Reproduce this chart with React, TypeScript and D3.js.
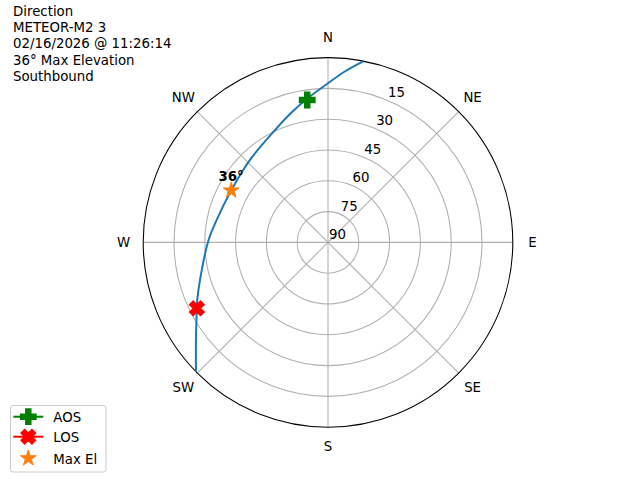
import React from "react";
import * as d3 from "d3";

const titleLines = ["Direction", "METEOR-M2 3", "02/16/2026 @ 11:26:14", "36° Max Elevation", "Southbound"];
const compassLabels = ["N", "NE", "E", "SE", "S", "SW", "W", "NW"];
const compassAz = [0, 45, 90, 135, 180, 225, 270, 315];
const ringTicks = [15, 30, 45, 60, 75];
const rLabelTicks = [15, 30, 45, 60, 75, 90];

// pass track (azimuth deg, elevation deg)
const trackAz = [11.0, 5.5, 0, 351.7, 343.5, 334.8, 316.6, 298.2, 281.4, 270.7, 253.6, 246.2, 243.3, 233.5, 225.6];
const trackEl = [0.2, 6.5, 12.5, 19.3, 24.8, 29.5, 34.7, 36.5, 34.7, 31.7, 25.0, 20.4, 18.5, 10.0, 0.0];

const aos = { az: 351.7, el: 19.9 };
const los = { az: 243.3, el: 18.5 };
const maxEl = { az: 298.2, el: 36.5 };

const legendLabels = ["AOS", "LOS", "Max El"];

const W = 640, H = 480;
const cx = 328, cy = 242.4, R = 184.8;
const FONT = "DejaVu Sans, sans-serif";

const rScale = d3.scaleLinear().domain([90, 0]).range([0, R]);
const aScale = d3.scaleLinear().domain([0, 360]).range([0, 2 * Math.PI]);
const px = (az: number, el: number) => cx + rScale(el) * Math.sin(aScale(az));
const py = (az: number, el: number) => cy - rScale(el) * Math.cos(aScale(az));

function plusPath(s: number, rot: number) {
  const h = s / 2, t = s / 6;
  const pts: [number, number][] = [
    [-t, -h], [t, -h], [t, -t], [h, -t], [h, t], [t, t], [t, h], [-t, h], [-t, t], [-h, t], [-h, -t], [-t, -t],
  ];
  const c = Math.cos(rot), sn = Math.sin(rot);
  return "M" + pts.map(([x, y]) => `${x * c - y * sn},${x * sn + y * c}`).join("L") + "Z";
}

function starPath(ro: number) {
  const ri = ro * 0.381966;
  const pts: string[] = [];
  for (let i = 0; i < 10; i++) {
    const r = i % 2 === 0 ? ro : ri;
    const a = (i * Math.PI) / 5;
    pts.push(`${r * Math.sin(a)},${-r * Math.cos(a)}`);
  }
  return "M" + pts.join("L") + "Z";
}

const GREEN = "#008000";
const RED = "#ff0000";
const ORANGE = "#ff7f0e";
const BLUE = "#1f77b4";

export default function App() {
  const trackPts = trackAz.map((a, i) => [px(a, trackEl[i]), py(a, trackEl[i])] as [number, number]);
  const lineGen = d3.line().curve(d3.curveCatmullRom.alpha(0.5));
  const legendY = [416.7, 436.7, 458.3];
  return (
    <svg width={W} height={H} style={{ position: "absolute", left: 0, top: 0 }} fontFamily={FONT}>
      <rect x={0} y={0} width={W} height={H} fill="#fff" />
      {ringTicks.map((t) => (
        <circle key={t} cx={cx} cy={cy} r={rScale(t)} fill="none" stroke="#b0b0b0" strokeWidth={1.07} />
      ))}
      {compassAz.map((a) => (
        <line key={a} x1={cx} y1={cy} x2={px(a, 0)} y2={py(a, 0)} stroke="#b0b0b0" strokeWidth={1.07} />
      ))}
      <circle cx={cx} cy={cy} r={R} fill="none" stroke="#000" strokeWidth={1.07} />
      {compassLabels.map((l, i) => {
        const a = aScale(compassAz[i]);
        return (
          <text key={l} x={cx + 204.5 * Math.sin(a)} y={cy - 204.5 * Math.cos(a)} fontSize={13.33} textAnchor="middle" dominantBaseline="central">
            {l}
          </text>
        );
      })}
      {rLabelTicks.map((t) => (
        <text key={t} x={px(22.5, t) + 1} y={py(22.5, t) - 3.3} fontSize={13.33}>
          {t}
        </text>
      ))}
      <path d={lineGen(trackPts) || ""} fill="none" stroke={BLUE} strokeWidth={2} />
      <path d={plusPath(15.5, 0)} transform={`translate(${px(aos.az, aos.el)},${py(aos.az, aos.el)})`} fill={GREEN} stroke={GREEN} strokeWidth={1.33} />
      <path d={plusPath(15.5, Math.PI / 4)} transform={`translate(${px(los.az, los.el)},${py(los.az, los.el)})`} fill={RED} stroke={RED} strokeWidth={1.33} />
      <path d={starPath(8.3)} transform={`translate(${px(maxEl.az, maxEl.el)},${py(maxEl.az, maxEl.el)})`} fill={ORANGE} stroke={ORANGE} strokeWidth={1} />
      <text x={px(maxEl.az, maxEl.el)} y={py(maxEl.az, maxEl.el) - 9} fontSize={13.33} fontWeight="bold" textAnchor="middle">
        {`${Math.trunc(maxEl.el)}°`}
      </text>
      {titleLines.map((l, i) => (
        <text key={i} x={13} y={16 + i * 16.2} fontSize={13.33}>
          {l}
        </text>
      ))}
      <rect x={10.5} y={405.5} width={95.5} height={66.5} rx={2.5} fill="#fff" fillOpacity={0.8} stroke="#cccccc" strokeWidth={1} />
      <line x1={13.3} x2={43.3} y1={legendY[0]} y2={legendY[0]} stroke={GREEN} strokeWidth={2} />
      <path d={plusPath(15.5, 0)} transform={`translate(28.3,${legendY[0]})`} fill={GREEN} stroke={GREEN} strokeWidth={1.33} />
      <line x1={13.3} x2={43.3} y1={legendY[1]} y2={legendY[1]} stroke={RED} strokeWidth={2} />
      <path d={plusPath(15.5, Math.PI / 4)} transform={`translate(28.3,${legendY[1]})`} fill={RED} stroke={RED} strokeWidth={1.33} />
      <path d={starPath(8.3)} transform={`translate(28.3,${legendY[2]})`} fill={ORANGE} stroke={ORANGE} strokeWidth={1} />
      {legendLabels.map((l, i) => (
        <text key={l} x={53.3} y={legendY[i] + 1} fontSize={13.33} dominantBaseline="central">
          {l}
        </text>
      ))}
    </svg>
  );
}
